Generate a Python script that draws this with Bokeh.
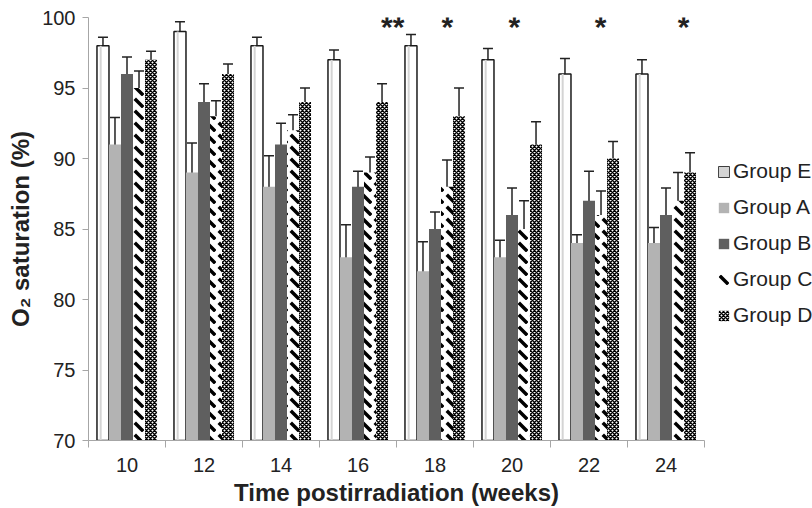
from bokeh.plotting import figure
from bokeh.models import (ColumnDataSource, Range1d, FixedTicker, Whisker, TeeHead,
                          Legend, LegendItem)
from bokeh.core.properties import value
from bokeh.embed import file_html
from bokeh.resources import INLINE

weeks = ["10", "12", "14", "16", "18", "20", "22", "24"]
groups = ["Group E", "Group A", "Group B", "Group C", "Group D"]

grp_E = [98, 99, 98, 97, 98, 97, 96, 96]
err_E = [0.6, 0.7, 0.6, 0.7, 0.8, 0.8, 1.1, 1.0]
grp_A = [91, 89, 88, 83, 82, 83, 84, 84]
err_A = [1.9, 2.1, 2.2, 2.3, 2.1, 1.2, 0.6, 1.1]
grp_B = [96, 94, 91, 88, 85, 86, 87, 86]
err_B = [1.2, 1.3, 1.5, 1.1, 1.2, 1.9, 2.1, 1.9]
grp_C = [95, 93, 92, 89, 88, 85, 86, 87]
err_C = [1.2, 1.1, 1.1, 1.1, 1.9, 2.0, 1.7, 2.0]
grp_D = [97, 96, 94, 94, 93, 91, 90, 89]
err_D = [0.6, 0.7, 1.0, 1.3, 2.0, 1.6, 1.2, 1.4]

stars = ["", "", "", "**", "*", "*", "*", "*"]
star_dx = [0.5, 0.5, 0.5, 0.95, 0.66, 0.53, 0.65, 0.73]
star_y = 99.35

FONT = "Liberation Sans"
TXT = "#222222"
AX = "#a6a6a6"

p = figure(frame_width=616, frame_height=423, output_backend="svg",
           toolbar_location=None, x_range=Range1d(0, 8), y_range=Range1d(70, 100),
           min_border_left=88, min_border_top=17, min_border_bottom=68,
           min_border_right=0)
p.outline_line_color = None
p.xgrid.visible = False
p.ygrid.visible = False
p.background_fill_color = "white"

bw = 0.156
centers = [i + 0.5 for i in range(len(weeks))]
series = [grp_E, grp_A, grp_B, grp_C, grp_D]
errs = [err_E, err_A, err_B, err_C, err_D]
styles = [
    dict(fill_color="white", line_color="#1a1a1a", line_width=1.5),
    dict(fill_color="#b3b3b3", line_color=None),
    dict(fill_color="#5f5f5f", line_color=None),
    dict(fill_color="white", line_color=None, hatch_pattern="left_diagonal_dash",
         hatch_scale=12, hatch_weight=3.5, hatch_color="black"),
    dict(fill_color="white", line_color=None, hatch_pattern="diagonal_cross",
         hatch_scale=4, hatch_weight=1.5, hatch_color="black"),
]

renderers = []
for k, (vals, err, st) in enumerate(zip(series, errs, styles)):
    off = (k - 2) * bw
    xs = [c + off for c in centers]
    src = ColumnDataSource(dict(x=xs, top=vals,
                                upper=[v + e for v, e in zip(vals, err)],
                                lower=[v - e for v, e in zip(vals, err)]))
    items = []
    r = p.vbar(x="x", top="top", bottom=70, width=bw, source=src, **st)
    items.append(r)
    if k == 0:
        src2 = ColumnDataSource(dict(x=[x - 0.03 for x in xs], top=vals))
        r2 = p.vbar(x="x", top="top", bottom=70, width=0.026, source=src2,
                    fill_color="#d4d4d4", line_color=None)
        items.append(r2)
    renderers.append(items)
    w = Whisker(base="x", upper="upper", lower="lower", source=src, dimension="height",
                line_color="#222222", line_width=1.5,
                upper_head=TeeHead(size=10, line_color="#222222", line_width=1.5),
                lower_head=TeeHead(size=10, line_color="#222222", line_width=1.5))
    p.add_layout(w)

ssrc = ColumnDataSource(dict(x=[i + d for i, d in enumerate(star_dx)],
                             y=[star_y] * len(stars), t=stars))
p.text(x="x", y="y", text="t", source=ssrc, text_align="center",
       text_baseline="middle", text_font=value(FONT), text_font_size="30px",
       text_font_style="bold", text_color=TXT)

# y axis
p.yaxis.ticker = FixedTicker(ticks=[70, 75, 80, 85, 90, 95, 100])
p.yaxis.axis_line_color = AX
p.yaxis.major_tick_line_color = AX
p.yaxis.major_tick_out = 6
p.yaxis.major_tick_in = 0
p.yaxis.minor_tick_line_color = None
p.yaxis.major_label_text_font = FONT
p.yaxis.major_label_text_font_size = "20px"
p.yaxis.major_label_text_color = TXT
p.yaxis.major_label_standoff = 7
p.yaxis.axis_label = "O\u2082 saturation (%)"
p.yaxis.axis_label_text_font = FONT
p.yaxis.axis_label_text_font_size = "24px"
p.yaxis.axis_label_text_font_style = "bold"
p.yaxis.axis_label_text_color = TXT
p.yaxis.axis_label_standoff = 5

# x axis
p.xaxis.ticker = FixedTicker(ticks=centers, minor_ticks=list(range(len(weeks) + 1)))
p.xaxis.major_label_overrides = {c: w for c, w in zip(centers, weeks)}
p.xaxis.axis_line_color = AX
p.xaxis.major_tick_line_color = None
p.xaxis.major_tick_out = 0
p.xaxis.major_tick_in = 0
p.xaxis.minor_tick_line_color = AX
p.xaxis.minor_tick_out = 7
p.xaxis.minor_tick_in = 0
p.xaxis.major_label_text_font = FONT
p.xaxis.major_label_text_font_size = "20px"
p.xaxis.major_label_text_color = TXT
p.xaxis.major_label_standoff = 10
p.xaxis.axis_label = "Time postirradiation (weeks)"
p.xaxis.axis_label_text_font = FONT
p.xaxis.axis_label_text_font_size = "24px"
p.xaxis.axis_label_text_font_style = "bold"
p.xaxis.axis_label_text_color = TXT
p.xaxis.axis_label_standoff = 4

legend = Legend(items=[LegendItem(label=g, renderers=r) for g, r in zip(groups, renderers)],
                location=(13, 113), border_line_color=None, background_fill_alpha=0,
                label_text_font=FONT, label_text_font_size="21px", label_text_color=TXT,
                glyph_width=13, glyph_height=13, spacing=12, label_height=24,
                padding=0, margin=0, label_standoff=3)
p.add_layout(legend, "right")

open("out.html", "w").write(file_html(p, INLINE))
